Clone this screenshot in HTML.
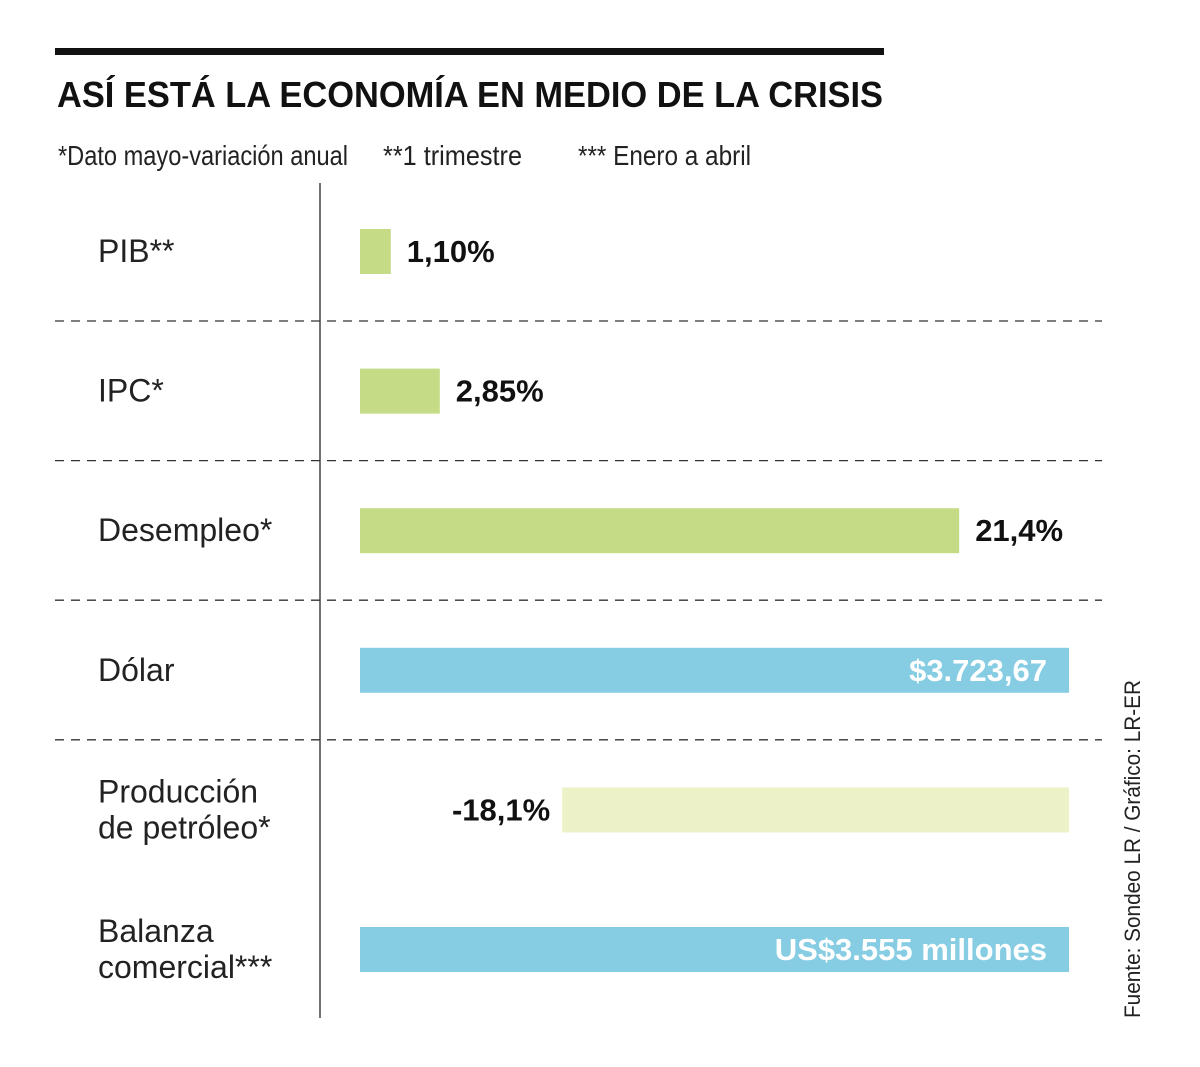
<!DOCTYPE html>
<html><head><meta charset="utf-8">
<style>
html,body{margin:0;padding:0;background:#fff;}
svg{display:block;font-family:"Liberation Sans",sans-serif;}
</style></head>
<body>
<svg id="chart" width="1200" height="1067" viewBox="0 0 1200 1067">
<rect x="55" y="48" width="829" height="7" fill="#111"/>
<text x="57" y="107" font-size="36" font-weight="bold" fill="#111" textLength="826" lengthAdjust="spacingAndGlyphs">ASÍ ESTÁ LA ECONOMÍA EN MEDIO DE LA CRISIS</text>
<text x="58" y="165" font-size="28" fill="#222" textLength="290" lengthAdjust="spacingAndGlyphs">*Dato mayo-variación anual</text>
<text x="383" y="165" font-size="28" fill="#222" textLength="139" lengthAdjust="spacingAndGlyphs">**1 trimestre</text>
<text x="578" y="165" font-size="28" fill="#222" textLength="173" lengthAdjust="spacingAndGlyphs">*** Enero a abril</text>
<line x1="320" y1="183" x2="320" y2="1018" stroke="#444" stroke-width="1.5"/>
<g id="grid"></g>
<g id="rows"></g>
<text transform="translate(1140,1018) rotate(-90)" font-size="22" fill="#222" textLength="338" lengthAdjust="spacingAndGlyphs">Fuente: Sondeo LR / Gráfico: LR-ER</text>
</svg>
<script>
const categories = [["PIB**"],["IPC*"],["Desempleo*"],["Dólar"],["Producción","de petróleo*"],["Balanza","comercial***"]];
const values = [1.10, 2.85, 21.4, 3723.67, -18.1, 3555];
const valueLabels = ["1,10%","2,85%","21,4%","$3.723,67","-18,1%","US$3.555 millones"];
const kinds = ["pct","pct","pct","money","pct","money"];

const NS="http://www.w3.org/2000/svg";
const x0=360, xMax=1069, pxPerPct=28;
function xScale(v){return x0+Math.abs(v)*pxPerPct;}
function yRow(i){return 229+i*139.6;}
function mk(tag,attrs,parent){const e=document.createElementNS(NS,tag);for(const k in attrs)e.setAttribute(k,attrs[k]);parent.appendChild(e);return e;}
const grid=document.getElementById('grid'), rows=document.getElementById('rows');
for(let i=0;i<4;i++){
  const y=yRow(i)+92;
  const l=mk('line',{x1:55,x2:1102,y1:y,y2:y,stroke:'#333','stroke-width':1.3,'stroke-dasharray':'9 7'},grid);
  
  
}
categories.forEach((lines,i)=>{
  const y=yRow(i), h=45, v=values[i];
  const t=mk('text',{x:98,'font-size':32,fill:'#222'},rows);
  
  
  if(lines.length===1){t.setAttribute('y',y+33);t.textContent=lines[0];}
  else{lines.forEach((s,j)=>{const ts=mk('tspan',{x:98,y:y+15+j*36},t);ts.textContent=s;});}
  let bx,bw,fill;
  if(kinds[i]==='money'){bx=x0;bw=xMax-x0;fill='#86cde3';}
  else if(v<0){bw=xScale(v)-x0;bx=xMax-bw;fill='#ecf1c8';}
  else{bx=x0;bw=xScale(v)-x0;fill='#c5db86';}
  const r=mk('rect',{x:bx,y:y,width:bw,height:h,fill:fill},rows);
  
  
  const vl=mk('text',{y:y+33,'font-size':31,'font-weight':'bold'},rows);
  
  
  vl.textContent=valueLabels[i];
  if(kinds[i]==='money'){vl.setAttribute('x',xMax-22);vl.setAttribute('text-anchor','end');vl.setAttribute('fill','#fff');}
  else if(v<0){vl.setAttribute('x',bx-12);vl.setAttribute('text-anchor','end');vl.setAttribute('fill','#111');}
  else{vl.setAttribute('x',bx+bw+16);vl.setAttribute('fill','#111');}
});
</script>
</body></html>
